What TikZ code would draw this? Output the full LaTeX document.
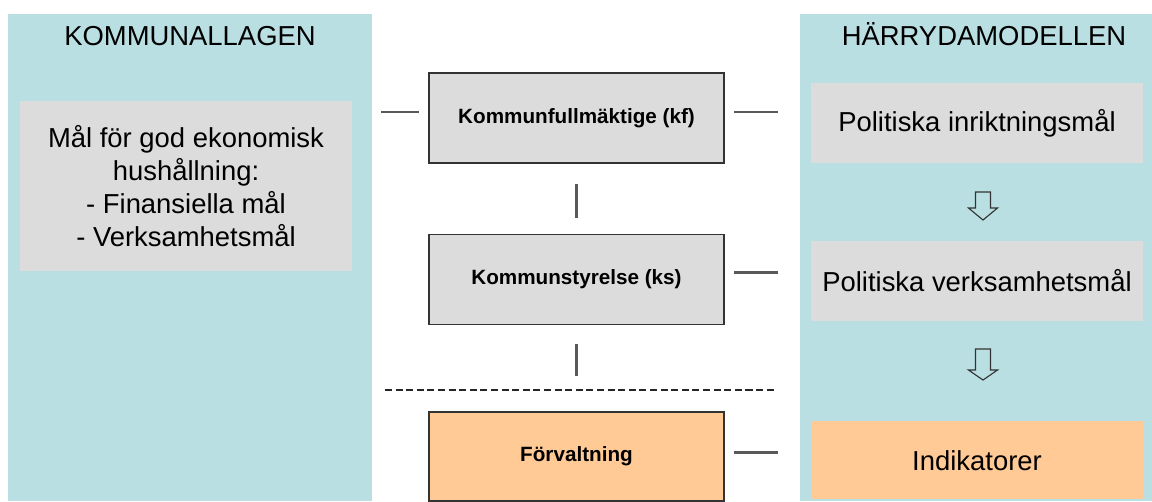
\documentclass[tikz,border=0pt]{standalone}
\usepackage{fontspec}
\setmainfont{Liberation Sans}
\usetikzlibrary{positioning}
\definecolor{lagblue}{HTML}{B9DFE2}
\definecolor{boxgrey}{HTML}{DCDCDC}
\definecolor{peach}{HTML}{FFCA96}

\begin{document}
\begin{tikzpicture}[x=0.025cm, y=-0.025cm,
  every node/.style={font=\fontsize{19.5}{23.5}\selectfont, align=center, inner sep=0pt},
  goalbox/.style={fill=boxgrey, minimum width=83mm, minimum height=20mm},
  orgbox/.style={draw=black!80, line width=1pt, fill=boxgrey, minimum width=73.75mm,
    minimum height=22.5mm, font=\fontsize{14.7}{17}\selectfont\bfseries},
  tie/.style={draw=black!65, line width=1.7pt},
  cut/.style={draw=black!85, line width=1.4pt, dash pattern=on 1.75mm off 0.9mm},
  hollow/.style={draw=black!80, line width=0.8pt, fill=lagblue}]
  \useasboundingbox (0,0) rectangle (1152,501);

  % Panels
  \fill[lagblue] (8,14) rectangle (372,501);
  \fill[lagblue] (800,14) rectangle (1152,501);
  \node[anchor=base] (lawhead) at (190,45.5) {KOMMUNALLAGEN};
  \node[anchor=base] (modelhead) at (984,45.5) {HÄRRYDAMODELLEN};

  % Kommunallagen
  \node[goalbox, minimum height=42.5mm] (lgoal) at (186,186)
    {Mål för god ekonomisk\\ hushållning:\\ - Finansiella mål\\ - Verksamhetsmål};

  % Organisation
  \node[orgbox] (kf) at (576.5,118) {Kommunfullmäktige (kf)};
  \node[orgbox, below=17.5mm of kf] (ks) {Kommunstyrelse (ks)};
  \node[orgbox, fill=peach, minimum height=22.25mm, below=21.5mm of ks] (adm) {Förvaltning};

  \coordinate (cutL) at (385,390);
  \coordinate (cutR) at (775,390);
  \draw[cut] (cutL) -- (cutR);

  \draw[tie, shorten <=5mm, shorten >=4mm] (kf) -- (ks);
  \draw[tie, shorten <=4.75mm, shorten >=3.5mm] (ks.south) -- (ks.south |- cutL);
  \draw[tie] ([shift={(-47,-6)}]kf.west) -- ([shift={(-9,-6)}]kf.west);
  \foreach \n/\dy in {kf/-6, ks/-7, adm/-4}
    \draw[tie] ([shift={(9,\dy)}]\n.east) -- ([shift={(53,\dy)}]\n.east);

  % Härrydamodellen
  \node[goalbox] (pol1) at (977,123) {Politiska inriktningsmål};
  \node[goalbox, below=19.25mm of pol1] (pol2) {Politiska verksamhetsmål};
  \node[goalbox, fill=peach, minimum height=19.5mm, below=25mm of pol2] (ind) {Indikatorer};

  \foreach \top/\neck/\tip in {192/208/220, 349/370/380}
    \draw[hollow] (975.5,\top) -- (990.5,\top) -- (990.5,\neck) -- (997.5,\neck)
      -- (983,\tip) -- (968.5,\neck) -- (975.5,\neck) -- cycle;
\end{tikzpicture}
\end{document}
